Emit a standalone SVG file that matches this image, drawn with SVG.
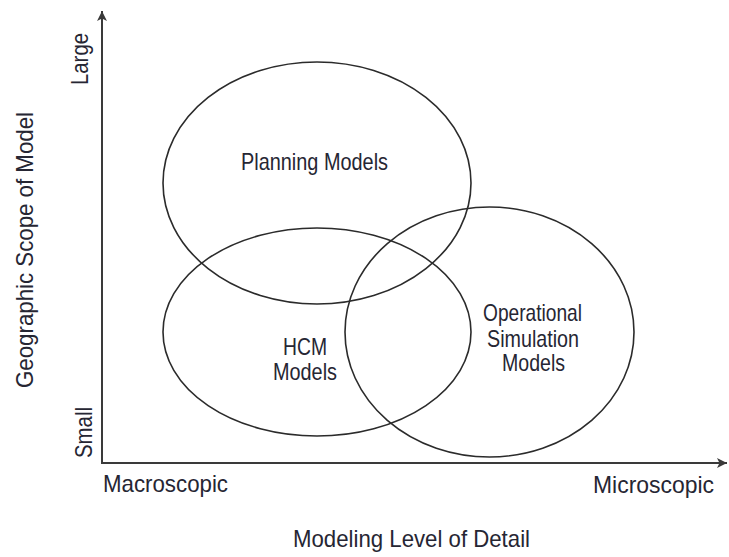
<svg xmlns="http://www.w3.org/2000/svg" width="729" height="557" viewBox="0 0 729 557">
  <style>
    .lbl { font-family: "Liberation Sans Narrow", "Liberation Sans", Arial, sans-serif; font-size: 24px; fill: #262633; }
    .ell { fill: none; stroke: #2b2b2b; stroke-width: 1.6; }
    .axis { fill: none; stroke: #3a3a3a; stroke-width: 2; }
  </style>
  <defs>
    <marker id="arr" viewBox="0 0 10 10" refX="10" refY="5" markerWidth="5" markerHeight="5" markerUnits="strokeWidth" orient="auto">
      <path d="M0,0 L10,5 L0,10 L2.5,5 Z" fill="#3a3a3a"/>
    </marker>
  </defs>
  <rect width="729" height="557" fill="#ffffff"/>

  <g id="axes">
    <path class="axis" d="M102,463 L102,11" marker-end="url(#arr)"/>
    <path class="axis" d="M101,463 L727,463" marker-end="url(#arr)"/>
  </g>

  <g id="planning">
    <ellipse class="ell" cx="317" cy="183" rx="154" ry="121"/>
    <text class="lbl" x="241" y="170" textLength="147" lengthAdjust="spacingAndGlyphs">Planning Models</text>
  </g>

  <g id="hcm">
    <ellipse class="ell" cx="317" cy="332" rx="154" ry="104"/>
    <text class="lbl" x="283" y="355" textLength="44" lengthAdjust="spacingAndGlyphs">HCM</text>
    <text class="lbl" x="273" y="380" textLength="64" lengthAdjust="spacingAndGlyphs">Models</text>
  </g>

  <g id="operational">
    <ellipse class="ell" cx="489.5" cy="332" rx="144.5" ry="125"/>
    <text class="lbl" x="483" y="321" textLength="99" lengthAdjust="spacingAndGlyphs">Operational</text>
    <text class="lbl" x="487" y="347" textLength="92" lengthAdjust="spacingAndGlyphs">Simulation</text>
    <text class="lbl" x="502" y="371" textLength="63" lengthAdjust="spacingAndGlyphs">Models</text>
  </g>

  <g id="labels">
    <text class="lbl" x="103" y="492" textLength="125" lengthAdjust="spacingAndGlyphs">Macroscopic</text>
    <text class="lbl" x="593" y="493" textLength="121" lengthAdjust="spacingAndGlyphs">Microscopic</text>
    <text class="lbl" x="293" y="547" textLength="237" lengthAdjust="spacingAndGlyphs">Modeling Level of Detail</text>
    <text class="lbl" transform="translate(88,85) rotate(-90)" x="0" y="0" textLength="52" lengthAdjust="spacingAndGlyphs">Large</text>
    <text class="lbl" transform="translate(92,458) rotate(-90)" x="0" y="0" textLength="51" lengthAdjust="spacingAndGlyphs">Small</text>
    <text class="lbl" transform="translate(33,388) rotate(-90)" x="0" y="0" textLength="276" lengthAdjust="spacingAndGlyphs">Geographic Scope of Model</text>
  </g>
</svg>
